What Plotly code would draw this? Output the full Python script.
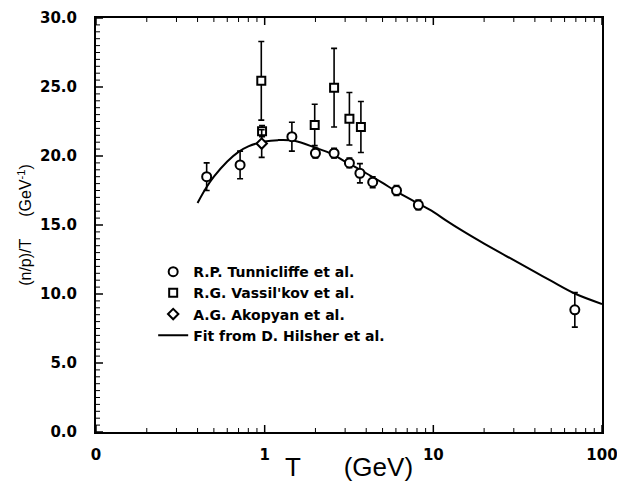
import plotly.graph_objects as go

# R.P. Tunnicliffe et al.
tun_T = [0.453, 0.715, 1.45, 2.0, 2.58, 3.18, 3.67, 4.37, 6.05, 8.15, 69.0]
tun_y = [18.5, 19.35, 21.4, 20.2, 20.2, 19.5, 18.75, 18.1, 17.5, 16.45, 8.85]
tun_e = [1.0, 1.0, 1.05, 0.35, 0.35, 0.35, 0.7, 0.4, 0.35, 0.35, 1.25]

# R.G. Vassil'kov et al.
vas_T = [0.955, 0.965, 1.98, 2.58, 3.18, 3.72]
vas_y = [25.45, 21.8, 22.25, 24.95, 22.7, 22.1]
vas_e = [2.85, 0.4, 1.5, 2.85, 1.9, 1.85]

# A.G. Akopyan et al.
ako_T = [0.96]
ako_y = [20.9]
ako_e = [1.0]

# Fit from D. Hilsher et al.
fit_T = [0.4, 0.45, 0.5, 0.6, 0.7, 0.8, 1.0, 1.2, 1.5, 2.0, 2.5, 3.0, 4.0, 5.0,
         6.0, 8.0, 10.0, 12.0, 15.0, 20.0, 30.0, 40.0, 50.0, 70.0, 100.0]
fit_y = [16.6, 17.7, 18.5, 19.6, 20.3, 20.7, 21.05, 21.15, 21.1, 20.6, 20.15, 19.6,
         18.75, 18.05, 17.45, 16.6, 15.95, 15.3, 14.55, 13.65, 12.45, 11.6, 10.95,
         10.0, 9.28]

# Axis ticks
x_tickvals = [0.1, 1, 10, 100]
x_ticktext = ["0", "1", "10", "100"]
x_minor = [m * d for d in (0.1, 1, 10) for m in range(2, 10)]
y_tickvals = [0, 5, 10, 15, 20, 25, 30]
y_ticktext = ["0.0", "5.0", "10.0", "15.0", "20.0", "25.0", "30.0"]
y_minor = [k * 0.5 for k in range(61) if k % 10]

X_RANGE = (0.1, 100)
Y_RANGE = (0, 30)
W, H = 617, 482
PX_PER_DECADE = (W - 96 - 15) / 3.0
PX_PER_UNIT = (H - 18 - 50) / (Y_RANGE[1] - Y_RANGE[0])

FONT = "DejaVu Sans, Liberation Sans, Arial, sans-serif"
TITLE_FONT = "Liberation Sans, Arial, sans-serif"
CLEAR = "rgba(0,0,0,0)"


def bold(items):
    return ["<b>%s</b>" % s for s in items]


fig = go.Figure()


# Inward tick marks built as one-sided error bars on hidden anchor points
def x_ticks(vals, length_px, width):
    dy = length_px / PX_PER_UNIT
    n = len(vals)
    for y0, up, down in ((Y_RANGE[0], dy, 0.0), (Y_RANGE[1], 0.0, dy)):
        fig.add_trace(go.Scatter(
            x=vals, y=[y0] * n, mode="markers", showlegend=False,
            hoverinfo="skip", marker=dict(size=2, color=CLEAR),
            error_y=dict(type="data", symmetric=False, array=[up] * n,
                         arrayminus=[down] * n, color="black",
                         thickness=width, width=0)))


def y_ticks(vals, length_px, width):
    x0 = X_RANGE[0]
    dx = x0 * (10 ** (length_px / PX_PER_DECADE) - 1)
    n = len(vals)
    fig.add_trace(go.Scatter(
        x=[x0] * n, y=vals, mode="markers", showlegend=False,
        hoverinfo="skip", marker=dict(size=2, color=CLEAR),
        error_x=dict(type="data", symmetric=False, array=[dx] * n,
                     arrayminus=[0.0] * n, color="black",
                     thickness=width, width=0)))


x_ticks(x_tickvals, 7, 1.5)
x_ticks(x_minor, 4, 1)
y_ticks(y_tickvals, 7, 1.5)
y_ticks(y_minor, 4, 1)

fig.add_trace(go.Scatter(
    x=fit_T, y=fit_y, mode="lines", name=bold(["Fit from D. Hilsher et al."])[0],
    line=dict(color="black", width=2, shape="spline"), legendrank=4))


def err(vals):
    return dict(type="data", array=vals, visible=True, color="black",
                thickness=1.6, width=3)


fig.add_trace(go.Scatter(
    x=vas_T, y=vas_y, mode="markers", name=bold(["R.G. Vassil'kov et al."])[0],
    error_y=err(vas_e), legendrank=2,
    marker=dict(symbol="square", size=8, color="white",
                line=dict(color="black", width=2))))

fig.add_trace(go.Scatter(
    x=ako_T, y=ako_y, mode="markers", name=bold(["A.G. Akopyan et al."])[0],
    error_y=err(ako_e), legendrank=3,
    marker=dict(symbol="diamond", size=8, color="white",
                line=dict(color="black", width=2))))

fig.add_trace(go.Scatter(
    x=tun_T, y=tun_y, mode="markers", name=bold(["R.P. Tunnicliffe et al."])[0],
    error_y=err(tun_e), legendrank=1,
    marker=dict(symbol="circle", size=9, color="white",
                line=dict(color="black", width=2))))

fig.update_layout(
    width=W, height=H,
    margin=dict(l=96, r=15, t=18, b=50, autoexpand=False),
    plot_bgcolor="white",
    font=dict(family=FONT, color="black"),
    legend=dict(x=0.113, y=0.425, xanchor="left", yanchor="top",
                bgcolor="rgba(0,0,0,0)", font=dict(size=14, family=FONT)),
)

fig.update_xaxes(
    type="log", range=[-1, 2],
    tickmode="array", tickvals=x_tickvals, ticktext=bold(x_ticktext),
    ticks="", ticklabelstandoff=8, ticklabeloverflow="allow",
    tickfont=dict(size=15, family=FONT),
    showline=True, linewidth=2, linecolor="black", mirror=True,
    showgrid=False, zeroline=False,
    title=dict(text="T      (GeV)", standoff=0,
               font=dict(size=26, family=TITLE_FONT)),
)

fig.update_yaxes(
    range=list(Y_RANGE), tickmode="array", tickvals=y_tickvals,
    ticktext=bold(y_ticktext),
    ticks="", ticklabelstandoff=14,
    tickfont=dict(size=15, family=FONT),
    showline=True, linewidth=2, linecolor="black", mirror=True,
    showgrid=False, zeroline=False,
    title=dict(text="(n/p)/T     (GeV<sup>-1</sup>)", standoff=4,
               font=dict(size=16, family=TITLE_FONT)),
)

fig.write_html("out.html")
